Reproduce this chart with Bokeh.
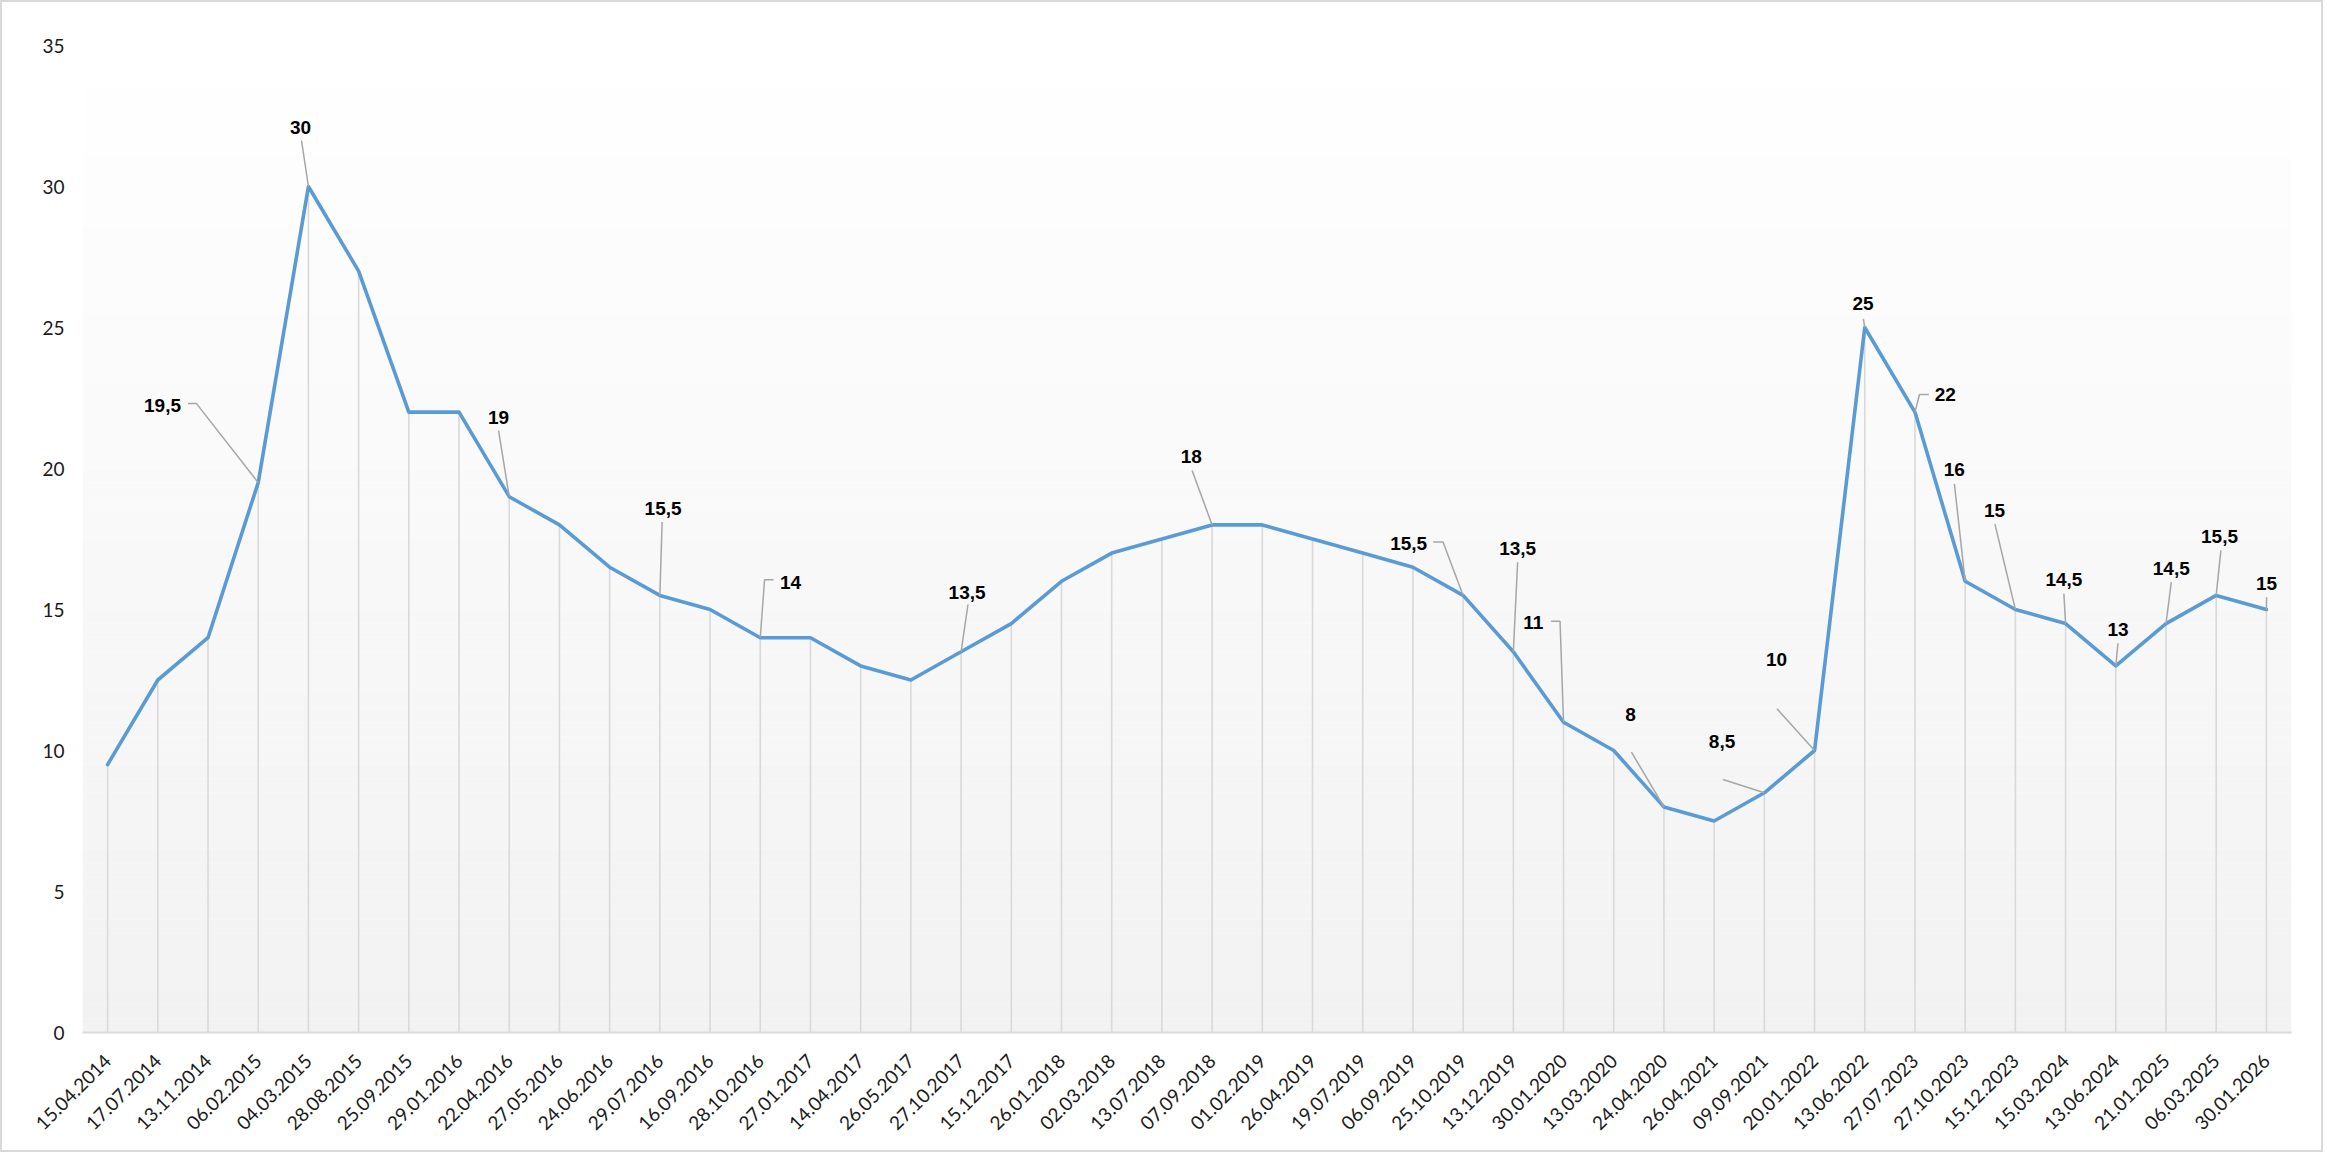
import math
from bokeh.plotting import figure
from bokeh.models import Range1d, FixedTicker, CustomJSTickFormatter, ColumnDataSource
from bokeh.core.properties import value
from bokeh.embed import file_html
from bokeh.resources import INLINE

# ---------------- data ----------------
dates = ["15.04.2014", "17.07.2014", "13.11.2014", "06.02.2015", "04.03.2015",
         "28.08.2015", "25.09.2015", "29.01.2016", "22.04.2016", "27.05.2016",
         "24.06.2016", "29.07.2016", "16.09.2016", "28.10.2016", "27.01.2017",
         "14.04.2017", "26.05.2017", "27.10.2017", "15.12.2017", "26.01.2018",
         "02.03.2018", "13.07.2018", "07.09.2018", "01.02.2019", "26.04.2019",
         "19.07.2019", "06.09.2019", "25.10.2019", "13.12.2019", "30.01.2020",
         "13.03.2020", "24.04.2020", "26.04.2021", "09.09.2021", "20.01.2022",
         "13.06.2022", "27.07.2023", "27.10.2023", "15.12.2023", "15.03.2024",
         "13.06.2024", "21.01.2025", "06.03.2025", "30.01.2026"]
values = [9.5, 12.5, 14, 19.5, 30, 27, 22, 22, 19, 18,
          16.5, 15.5, 15, 14, 14, 13, 12.5, 13.5, 14.5, 16,
          17, 17.5, 18, 18, 17.5, 17, 16.5, 15.5, 13.5, 11,
          10, 8, 7.5, 8.5, 10, 25, 22, 16, 15, 14.5,
          13, 14.5, 15.5, 15]
y_ticks = [0, 5, 10, 15, 20, 25, 30, 35]

# indices of points that carry a data label
label_idx = [3, 4, 8, 11, 13, 17, 22, 27, 28, 29, 31, 33, 34, 35, 36, 37, 38, 39, 40, 41, 42, 43]

# ---------------- label placement (screen px, relative to the point) ----------------
label_offsets = [(-95.7, -77), (-7.9, -59.3), (-10.7, -79), (3.2, -87), (30.3, -55.5),
                 (6, -59.6), (-20.9, -68.4), (-54.5, -51.7), (4.3, -103), (-30.3, -100.1),
                 (-33.4, -92.1), (-42.3, -51.3), (-38, -90.7), (-1.8, -23.7), (30.3, -17.3),
                 (-10.8, -111.5), (-20.9, -99), (-1.7, -43.8), (2.2, -36.1), (5.3, -54.8),
                 (3.3, -59), (0.2, -25.7)]
leader_offsets = [[(-61.7, -79), (-70.2, -79)], [(-6.9, -46)], [(-10.7, -66)], [(2.3, -73.3)],
                  [(4.3, -57.9), (13.3, -57.9)], [(6.9, -47.3)], [(-20, -54.4)],
                  [(-20.1, -53.3), (-29.9, -53.3)], [(4.3, -89.6)], [(-3.5, -101.1), (-12.5, -101.1)],
                  [(-32.5, -54.7)], [(-41.4, -13.3)], [(-37.6, -41.7)], [(-1.4, -8.7)],
                  [(4.5, -17.6), (13.9, -17.6)], [(-10.8, -97.5)], [(-20.5, -85.7)],
                  [(-1.7, -29.8)], [(2.2, -22.7)], [(5.3, -41.4)], [(4.7, -45)], [(0.2, -12.3)]]

# ---------------- layout ----------------
W, H = 2323, 1152
BL, BR, BT, BB = 80, 34, 43, 122
n = len(dates)
ymax = y_ticks[-1]
fw = W - BL - BR
fh = H - BT - BB
ppx = fw / n
ppy = fh / ymax

xs = [i + 0.5 for i in range(n)]

p = figure(width=W, height=H, x_range=Range1d(0, n), y_range=Range1d(0, ymax),
           output_backend="svg", toolbar_location=None,
           min_border_left=BL, min_border_right=BR, min_border_top=BT, min_border_bottom=BB)
p.background_fill_color = "white"
p.border_fill_color = "white"
p.outline_line_color = None
p.grid.visible = False
p.styles = {"border": "2px solid #d9d9d9"}

# gradient background of the plot area
nb = 70
g_bottom = [ymax * k / nb for k in range(nb)]
g_top = [ymax * (k + 1) / nb for k in range(nb)]
g_col = []
for k in range(nb):
    t = (k + 0.5) / nb
    c = int(round(242 + (255 - 242) * t))
    g_col.append("#%02x%02x%02x" % (c, c, c))
p.quad(left=0, right=n, bottom=g_bottom, top=g_top, fill_color=g_col, line_color=None)

# drop lines
p.segment(x0=xs, y0=0, x1=xs, y1=values, line_color="#d9d9d9", line_width=1.6)

# main line
p.line(xs, values, line_color="#5b9bd5", line_width=3.6, line_join="round", line_cap="round")

# leader lines
lx, ly = [], []
for idx, pts in zip(label_idx, leader_offsets):
    px0, py0 = xs[idx], values[idx]
    cx = [px0] + [px0 + dx / ppx for dx, dy in pts]
    cy = [py0] + [py0 - dy / ppy for dx, dy in pts]
    lx.append(cx)
    ly.append(cy)
p.multi_line(lx, ly, line_color="#a6a6a6", line_width=1.5)

# data labels
def fmt(v):
    s = ("%g" % v)
    return s.replace(".", ",")

lab_src = ColumnDataSource(dict(
    x=[xs[i] for i in label_idx],
    y=[values[i] for i in label_idx],
    t=[fmt(values[i]) for i in label_idx],
    xo=[o[0] for o in label_offsets],
    yo=[o[1] for o in label_offsets],
))
p.text(x="x", y="y", text="t", x_offset="xo", y_offset="yo", source=lab_src,
       text_font=value("Liberation Sans"), text_font_style="bold", text_font_size="19px",
       text_color="black", text_align="center", text_baseline="middle")

# axes
xa = p.xaxis[0]
xa.ticker = FixedTicker(ticks=xs)
xa.formatter = CustomJSTickFormatter(args=dict(labels=dates),
                                     code="return labels[Math.round(tick - 0.5)];")
xa.major_label_orientation = math.pi / 4
xa.axis_line_color = "#d9d9d9"
xa.axis_line_width = 2
xa.major_tick_line_color = None
xa.minor_tick_line_color = None
xa.major_label_text_font = "Lato"
xa.major_label_text_font_size = "19px"
xa.major_label_text_color = "#1a1a1a"
xa.major_label_standoff = 19

ya = p.yaxis[0]
ya.ticker = FixedTicker(ticks=y_ticks)
ya.axis_line_color = None
ya.major_tick_line_color = None
ya.minor_tick_line_color = None
ya.major_label_text_font = "Lato"
ya.major_label_text_font_size = "19px"
ya.major_label_text_color = "#1a1a1a"
ya.major_label_standoff = 12

open("out.html", "w").write(file_html(p, INLINE))
